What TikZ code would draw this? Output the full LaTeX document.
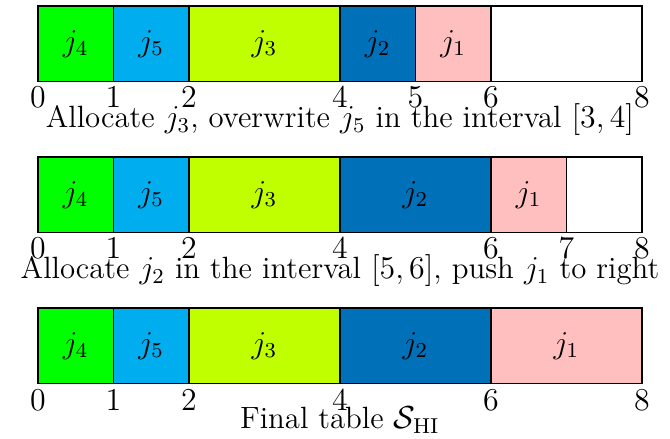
\documentclass[tikz,border=0pt]{standalone}
\usepackage{xcolor}
\usepackage{tikz}
\usepackage{amsmath}
\usetikzlibrary{positioning, calc}
\definecolor{JobGreen}{RGB}{0,255,0}
\definecolor{JobCyan}{RGB}{0,174,239}
\definecolor{JobLime}{RGB}{191,255,0}
\definecolor{JobBlue}{RGB}{0,112,184}
\definecolor{JobPink}{RGB}{255,191,191}
\newcommand{\tabfont}{\fontsize{11.6}{14}\selectfont}

\begin{document}
\begin{tikzpicture}[
  slot/.style={rectangle, draw=black, line width=0.4pt, minimum height=1cm, inner sep=0pt, font=\tabfont},
  tick/.style={anchor=base, inner sep=0pt, font=\tabfont},
  caption/.style={anchor=base, font=\tabfont, inner sep=0pt}
]
\useasboundingbox (-0.503,-4.728) rectangle (8.371,1.079);

% Row 1: allocate j3
\node[slot, fill=JobGreen, minimum width=1cm] (a4) at (0.5,0.5) {$j_4$};
\node[slot, fill=JobCyan, minimum width=1cm] (a5) at (1.5,0.5) {$j_5$};
\node[slot, fill=JobLime, minimum width=2cm] (a3) at (3,0.5) {$j_3$};
\node[slot, fill=JobBlue, minimum width=1cm] (a2) at (4.5,0.5) {$j_2$};
\node[slot, fill=JobPink, minimum width=1cm] (a1) at (5.5,0.5) {$j_1$};
\node[slot, fill=white, minimum width=2cm] (afree) at (7,0.5) {};
\foreach \t in {0,1,2,4,5,6,8}
  \node[tick] (at\t) at (\t,-0.345) {$\t$};
\node[caption] (acap) at (4,-0.61) {Allocate $j_3$, overwrite $j_5$ in the interval $[3,4]$};

% Row 2: allocate j2
\node[slot, fill=JobGreen, minimum width=1cm] (b4) at (0.5,-1.5) {$j_4$};
\node[slot, fill=JobCyan, minimum width=1cm] (b5) at (1.5,-1.5) {$j_5$};
\node[slot, fill=JobLime, minimum width=2cm] (b3) at (3,-1.5) {$j_3$};
\node[slot, fill=JobBlue, minimum width=2cm] (b2) at (5,-1.5) {$j_2$};
\node[slot, fill=JobPink, minimum width=1cm] (b1) at (6.5,-1.5) {$j_1$};
\node[slot, fill=white, minimum width=1cm] (bfree) at (7.5,-1.5) {};
\foreach \t in {0,1,2,4,6,7,8}
  \node[tick] (bt\t) at (\t,-2.345) {$\t$};
\node[caption] (bcap) at (4,-2.61) {Allocate $j_2$ in the interval $[5,6]$, push $j_1$ to right};

% Row 3: final table
\node[slot, fill=JobGreen, minimum width=1cm] (c4) at (0.5,-3.5) {$j_4$};
\node[slot, fill=JobCyan, minimum width=1cm] (c5) at (1.5,-3.5) {$j_5$};
\node[slot, fill=JobLime, minimum width=2cm] (c3) at (3,-3.5) {$j_3$};
\node[slot, fill=JobBlue, minimum width=2cm] (c2) at (5,-3.5) {$j_2$};
\node[slot, fill=JobPink, minimum width=2cm] (c1) at (7,-3.5) {$j_1$};
\foreach \t in {0,1,2,4,6,8}
  \node[tick] (ct\t) at (\t,-4.355) {$\t$};
\node[caption] (ccap) at (4,-4.6) {Final table $\mathcal{S}_{\text{HI}}$};

\end{tikzpicture}
\end{document}
